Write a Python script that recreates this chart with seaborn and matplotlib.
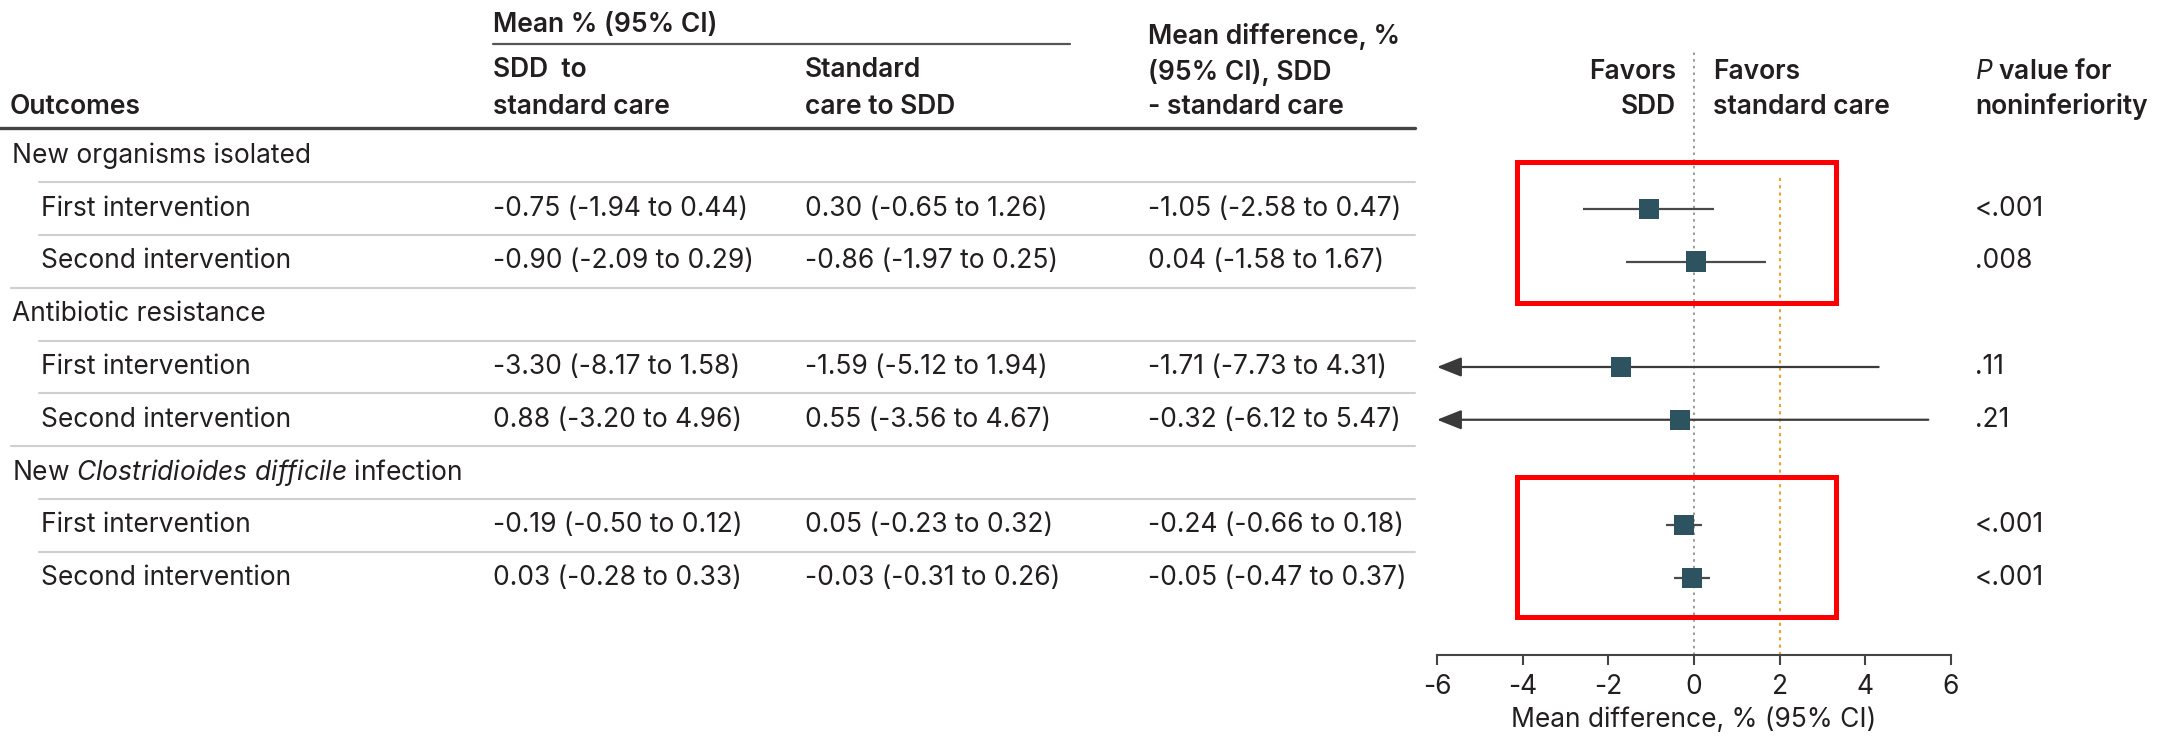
import numpy as np
import pandas as pd
import matplotlib
matplotlib.use("Agg")
import matplotlib.pyplot as plt
import seaborn as sns
from matplotlib.patches import Rectangle

# ---- data ----
groups = ['New organisms isolated',
          'Antibiotic resistance',
          r'New $\mathit{Clostridioides\ difficile}$ infection']
interventions = ['First intervention', 'Second intervention']

sdd_mean = [-0.75, -0.90, -3.30, 0.88, -0.19, 0.03]
sdd_lo = [-1.94, -2.09, -8.17, -3.20, -0.50, -0.28]
sdd_hi = [0.44, 0.29, 1.58, 4.96, 0.12, 0.33]

std_mean = [0.30, -0.86, -1.59, 0.55, 0.05, -0.03]
std_lo = [-0.65, -1.97, -5.12, -3.56, -0.23, -0.31]
std_hi = [1.26, 0.25, 1.94, 4.67, 0.32, 0.26]

diff_mean = [-1.05, 0.04, -1.71, -0.32, -0.24, -0.05]
diff_lo = [-2.58, -1.58, -7.73, -6.12, -0.66, -0.47]
diff_hi = [0.47, 1.67, 4.31, 5.47, 0.18, 0.37]

p_values = ['<.001', '.008', '.11', '.21', '<.001', '<.001']

x_ticks = [-6, -4, -2, 0, 2, 4, 6]
margin = 2

# ---- style ----
FONT = 'Inter'
sns.set_theme(style='white')
plt.rcParams['font.family'] = [FONT, 'DejaVu Sans']
plt.rcParams['axes.unicode_minus'] = False
plt.rcParams['mathtext.fontset'] = 'custom'
plt.rcParams['mathtext.rm'] = FONT
plt.rcParams['mathtext.it'] = FONT + ':italic'
plt.rcParams['mathtext.bf'] = FONT + ':bold'

TXT = '#231f20'
SQ = '#2d5361'
FS = 19

W, H = 2161, 740
fig = plt.figure(figsize=(W / 100, H / 100), dpi=100)

# layout in pixels
ROW0, STEP = 156, 52.75
def row_y(slot):
    return ROW0 + STEP * slot

# build table of rows
rows = []
slot = 0
header_slots = []
for gi, g in enumerate(groups):
    header_slots.append(slot)
    slot += 1
    for ii, lab in enumerate(interventions):
        k = gi * 2 + ii
        rows.append(dict(group=g, label=lab, slot=slot,
                         sdd=f'{sdd_mean[k]:.2f} ({sdd_lo[k]:.2f} to {sdd_hi[k]:.2f})',
                         std=f'{std_mean[k]:.2f} ({std_lo[k]:.2f} to {std_hi[k]:.2f})',
                         dtxt=f'{diff_mean[k]:.2f} ({diff_lo[k]:.2f} to {diff_hi[k]:.2f})',
                         diff=diff_mean[k], lo=diff_lo[k], hi=diff_hi[k],
                         p=p_values[k]))
        slot += 1
df = pd.DataFrame(rows)

# ---- table axes (pixel coordinates) ----
tab = fig.add_axes([0, 0, 1, 1])
tab.set_xlim(0, W)
tab.set_ylim(H, 0)
tab.axis('off')

COL = [493, 805, 1148]
XP = 1975
kw = dict(color=TXT, fontsize=FS, va='center')
bkw = dict(color=TXT, fontsize=FS, va='center', fontweight='semibold')

tab.text(COL[0], 25, 'Mean % (95% CI)', **bkw)
tab.plot([COL[0], 1070], [44, 44], color='#555555', lw=1.6)
tab.text(10, 107, 'Outcomes', **bkw)
tab.text(COL[0], 70, 'SDD  to', **bkw)
tab.text(COL[0], 107, 'standard care', **bkw)
tab.text(COL[1], 70, 'Standard', **bkw)
tab.text(COL[1], 107, 'care to SDD', **bkw)
tab.text(COL[2], 37, 'Mean difference, %', **bkw)
tab.text(COL[2], 72, '(95% CI), SDD', **bkw)
tab.text(COL[2], 107, '- standard care', **bkw)
tab.text(1676, 72, 'Favors', ha='right', **bkw)
tab.text(1676, 107, 'SDD', ha='right', **bkw)
tab.text(1713, 72, 'Favors', **bkw)
tab.text(1713, 107, 'standard care', **bkw)
tab.text(XP, 72, r'$\mathbf{\mathit{P}}$ value for', **bkw)
tab.text(XP, 107, 'noninferiority', **bkw)
tab.plot([0, 1415], [128, 128], color='#444444', lw=2.4)

for g, hs in zip(groups, header_slots):
    tab.text(12, row_y(hs), g, **kw)
    tab.plot([39, 1415], [row_y(hs + 0.5)] * 2, color='#cfcfcf', lw=1.5)

last = df['slot'].max()
for _, r in df.iterrows():
    y = row_y(r['slot'])
    tab.text(41, y, r['label'], **kw)
    tab.text(COL[0], y, r['sdd'], **kw)
    tab.text(COL[1], y, r['std'], **kw)
    tab.text(COL[2], y, r['dtxt'], **kw)
    tab.text(XP, y, r['p'], **kw)
    if r['slot'] != last:
        x0 = 39 if r['label'] == interventions[0] else 11
        tab.plot([x0, 1415], [row_y(r['slot'] + 0.5)] * 2, color='#cfcfcf', lw=1.5)

# ---- forest axes ----
ax_left, ax_right, ax_bottom_px = 1437, 1951, 655
ax = fig.add_axes([ax_left / W, 1 - ax_bottom_px / H,
                   (ax_right - ax_left) / W, ax_bottom_px / H])
ax.patch.set_alpha(0)

ax.axvline(0, ymin=0, ymax=1 - 52 / ax_bottom_px, color='#8a8a8a', lw=1.2, ls=(0, (1.5, 2.5)))
ax.axvline(margin, ymin=0, ymax=1 - 177 / ax_bottom_px, color='#f0a030', lw=1.5, ls=(0, (1.5, 2.0)))

xmin, xmax = x_ticks[0], x_ticks[-1]
for _, r in df.iterrows():
    if r['lo'] < xmin:
        ax.annotate('', xy=(xmin, r['slot']), xytext=(r['hi'], r['slot']),
                    arrowprops=dict(arrowstyle='-|>,head_length=0.75,head_width=0.3',
                                    color='#3a3a3a', lw=1.6, shrinkA=0, shrinkB=0,
                                    mutation_scale=20),
                    annotation_clip=False)
    else:
        ax.hlines(r['slot'], r['lo'], r['hi'], color='#4a4a4a', lw=1.6)

sns.scatterplot(data=df, x='diff', y='slot', marker='s', s=215, color=SQ,
                edgecolor='none', ax=ax, zorder=4, legend=False)

# red highlight boxes
for y0, y1 in [(0.11, 2.79), (6.09, 8.74)]:
    ax.add_patch(Rectangle((-4.13, y0), 3.32 + 4.13, y1 - y0, fill=False,
                           edgecolor='#ff0000', lw=3.6, zorder=5, clip_on=False))

ax.set_xlim(xmin, xmax)
ax.set_ylim((ax_bottom_px - ROW0) / STEP, -ROW0 / STEP)
ax.set_xticks(x_ticks)
ax.set_xticklabels([str(t) for t in x_ticks])
ax.set_yticks([])
ax.set_xlabel('Mean difference, % (95% CI)', fontsize=FS, color=TXT, labelpad=5)
ax.set_ylabel('')
for s in ['top', 'left', 'right']:
    ax.spines[s].set_visible(False)
ax.spines['bottom'].set_color('#444444')
ax.spines['bottom'].set_linewidth(1.5)
ax.tick_params(axis='x', direction='out', length=7, width=1.5, color='#444444',
               labelsize=FS, labelcolor=TXT, pad=7, bottom=True)

fig.savefig('out.png', dpi=100)
